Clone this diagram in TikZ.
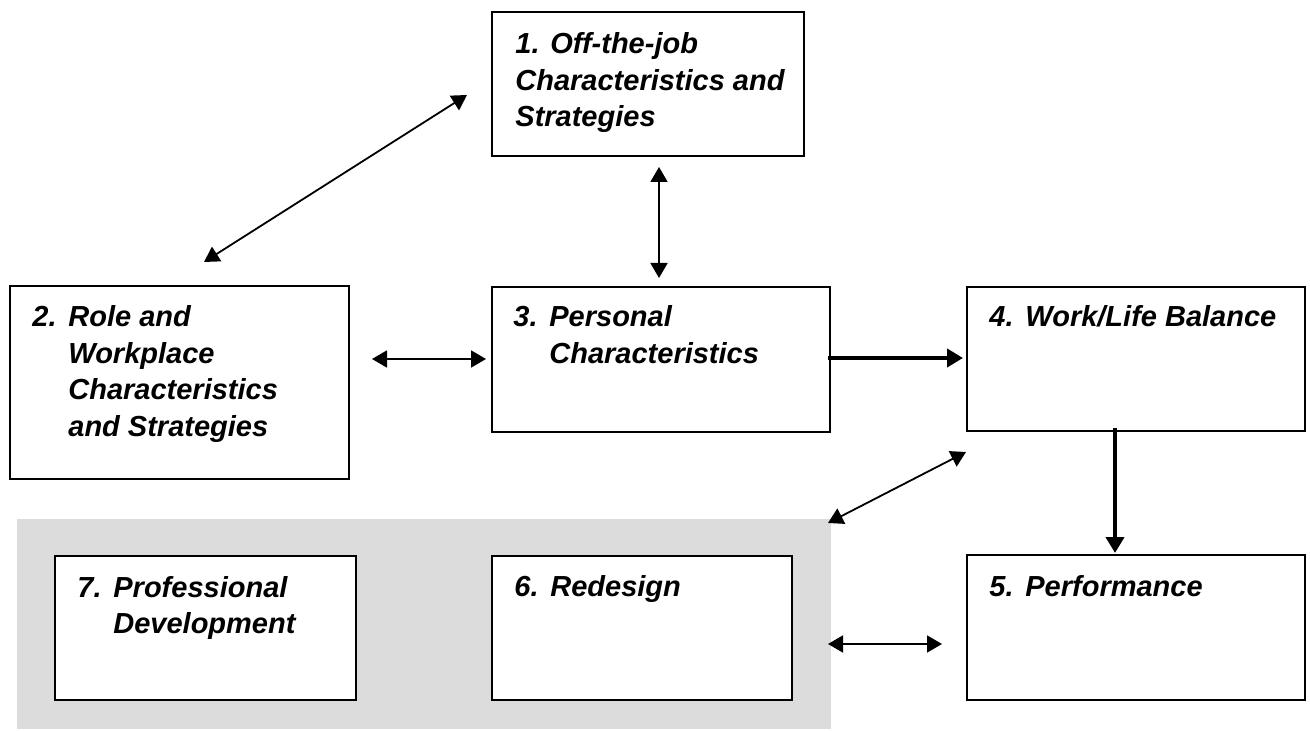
\documentclass[tikz,border=0pt]{standalone}
\usepackage{fontspec}
\setmainfont{Liberation Sans}
\usetikzlibrary{arrows.meta,fit}
\definecolor{panelgrey}{RGB}{220,220,220}
\newcommand{\hangrows}[1]{\begin{tabular}[t]{@{}l@{}l@{}}#1\end{tabular}}
\newcommand{\num}[1]{\makebox[18pt][l]{#1}}
\tikzset{
  box/.style={draw=black, line width=1pt, fill=white, inner sep=0pt},
  label/.style={anchor=base west, inner sep=0pt,
    font=\fontsize{14.5}{18.25}\selectfont\bfseries\itshape},
  thinlink/.style={line width=0.9pt, {Triangle[length=7.5pt,width=8.5pt]}-{Triangle[length=7.5pt,width=8.5pt]}},
  thicklink/.style={line width=2pt, -{Triangle[length=8pt,width=9pt]}}
}
\begin{document}
\begin{tikzpicture}[x=0.5pt,y=-0.5pt]
  \useasboundingbox (0,0) rectangle (1310,731);

  % shaded panel holding the intervention boxes
  \fill[panelgrey] (17,519) rectangle (831,729);

  % boxes
  \node[box, fit={(492,12) (804,156)}] (b1) {};
  \node[box, fit={(10,286) (349,479)}] (b2) {};
  \node[box, fit={(492,287) (830,432)}] (b3) {};
  \node[box, fit={(967,287) (1305,431)}] (b4) {};
  \node[box, fit={(967,555) (1305,700)}] (b5) {};
  \node[box, fit={(492,556) (792,700)}] (b6) {};
  \node[box, fit={(55,556) (356,700)}] (b7) {};

  % box texts
  \node[label] (t1) at (515,54) {\hangrows{1. Off-the-job\\ Characteristics and\\ Strategies}};
  \node[label] (t2) at (32,327) {\hangrows{\num{2.}&Role and\\ &Workplace\\ &Characteristics\\ &and Strategies}};
  \node[label] (t3) at (513,327) {\hangrows{\num{3.}&Personal\\ &Characteristics}};
  \node[label] (t4) at (989,327) {\hangrows{\num{4.}&Work/Life Balance}};
  \node[label] (t5) at (989,596) {\hangrows{\num{5.}&Performance}};
  \node[label] (t6) at (514,596) {\hangrows{\num{6.}&Redesign}};
  \node[label] (t7) at (77,597) {\hangrows{\num{7.}&Professional\\ &Development}};

  % connector end points
  \coordinate (c1a) at (467,95);
  \coordinate (c2a) at (204,262);
  \coordinate (c1b) at (659,167);
  \coordinate (c3a) at (659,278);
  \coordinate (c2b) at (372,359);
  \coordinate (c3b) at (486,359);
  \coordinate (c3c) at (828,358);
  \coordinate (c4a) at (963,358);
  \coordinate (c4b) at (1115,428);
  \coordinate (c5a) at (1115,553);
  \coordinate (c4c) at (966,452);
  \coordinate (gpa) at (828,523);
  \coordinate (gpb) at (828,644);
  \coordinate (c5b) at (942,644);

  % connectors
  \draw[thinlink] (c2a) -- (c1a);
  \draw[thinlink] (c1b) -- (c3a);
  \draw[thinlink] (c2b) -- (c3b);
  \draw[thicklink] (c3c) -- (c4a);
  \draw[thicklink] (c4b) -- (c5a);
  \draw[thinlink] (gpa) -- (c4c);
  \draw[thinlink] (gpb) -- (c5b);
\end{tikzpicture}
\end{document}
